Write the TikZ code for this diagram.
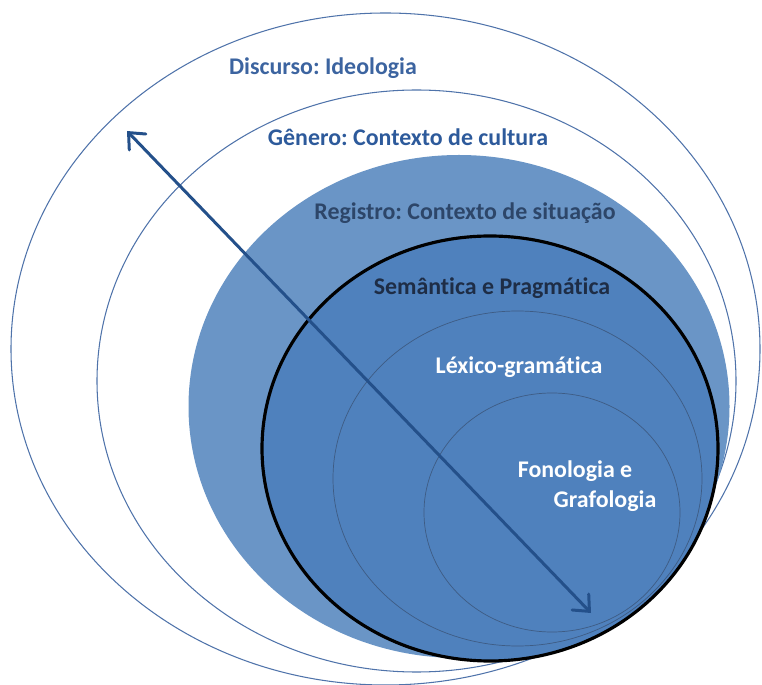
\documentclass[tikz,border=0pt]{standalone}
\usepackage{fontspec}
\setmainfont{Carlito}[Ligatures=NoCommon]
\usetikzlibrary{arrows.meta}
\frenchspacing

\definecolor{linhaazul}{RGB}{79,115,170}
\definecolor{registro}{RGB}{106,149,198}
\definecolor{semantica}{RGB}{79,129,189}
\definecolor{linhafina}{RGB}{62,92,132}
\definecolor{seta}{RGB}{36,80,138}
\definecolor{txtdisc}{RGB}{60,100,160}
\definecolor{txtgen}{RGB}{45,90,155}
\definecolor{txtreg}{RGB}{45,70,105}
\definecolor{txtsem}{RGB}{30,45,70}

\begin{document}
\begin{tikzpicture}[
  rotulo/.style={font=\fontsize{13.6}{16}\selectfont\bfseries, inner sep=1pt},
  anel/.style={draw=linhaazul, line width=0.6pt},
  anelfino/.style={draw=linhafina, line width=0.4pt}
]
\useasboundingbox (0,0) rectangle (15.24,13.68);
%\draw[help lines](0,0) grid (15,13);

\draw[anel] (7.71,6.70) ellipse (7.49 and 6.72); % discurso
\draw[anel] (8.33,6.06) ellipse (6.39 and 5.82); % genero
\fill[registro] (9.18,5.55) ellipse (5.41 and 5.03); % registro
\filldraw[fill=semantica, draw=black, line width=1.8pt] (9.80,4.71) ellipse (4.56 and 4.25); % semantica
\draw[anelfino] (10.35,4.11) ellipse (3.69 and 3.35); % lexico
\draw[anelfino] (11.04,3.43) ellipse (2.56 and 2.39); % fonologia

\node[rotulo, text=txtdisc] (disc) at (6.46,12.32) {Discurso: Ideologia}; % texto 1
\node[rotulo, text=txtgen] (gen) at (8.16,10.94) {Gênero: Contexto de cultura}; % texto 2
\node[rotulo, text=txtreg] (reg) at (9.30,9.42) {Registro: Contexto de situação}; % texto 3
\node[rotulo, text=txtsem] (sem) at (9.84,7.92) {Semântica e Pragmática}; % texto 4
\node[rotulo, text=white] (lex) at (10.38,6.34) {Léxico-gramática}; % texto 5
\node[rotulo, text=white] (fono) at (11.50,4.26) {Fonologia e}; % texto 6.1
\node[rotulo, text=white] (grafo) at (12.10,3.66) {Grafologia}; % texto 6.2

\coordinate (topo) at (2.54,11.06); % ponta de cima
\coordinate (base) at (11.82,1.42); % ponta de baixo
\draw[seta, line width=1.7pt, {Straight Barb[length=2.6mm,width=4.6mm,line cap=round]}-{Straight Barb[length=2.6mm,width=4.6mm,line cap=round]}] (base) -- (topo); % seta

\end{tikzpicture}
\end{document}
